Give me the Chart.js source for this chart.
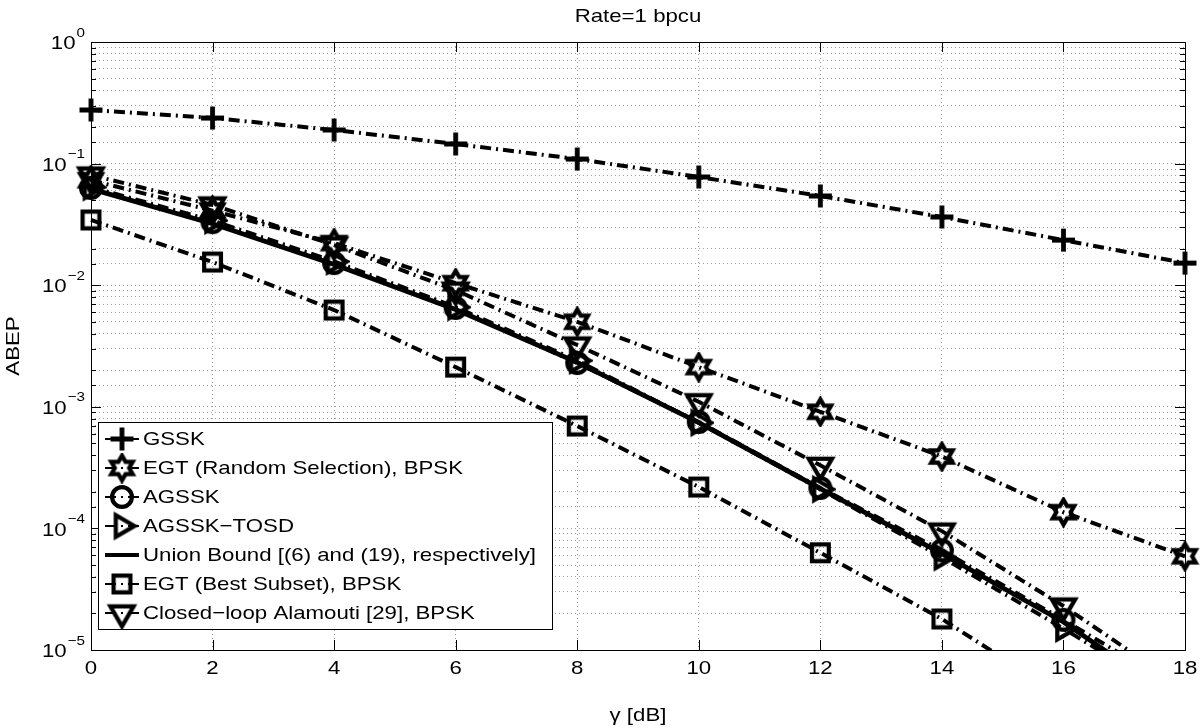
<!DOCTYPE html>
<html>
<head>
<meta charset="utf-8">
<title>Rate=1 bpcu</title>
<script src="https://cdn.jsdelivr.net/npm/chart.js@4.4.1/dist/chart.umd.min.js"></script>
<style>
  html, body { margin: 0; padding: 0; background: #fff; }
</style>
</head>
<body>
<canvas id="abepChart" width="1200" height="728"></canvas>
<script>
// values (ABEP vs gamma in dB)
const snrDb = [0, 2, 4, 6, 8, 10, 12, 14, 16, 18];
const gssk = [0.276, 0.237, 0.189, 0.145, 0.109, 0.0776, 0.0542, 0.0364, 0.0235, 0.0152];
const egtRandom = [0.073, 0.041, 0.0222, 0.0104, 0.0050, 0.00212, 9.1e-4, 3.9e-4, 1.36e-4, 5.9e-5];
const agssk = [0.063, 0.033, 0.0152, 0.0065, 0.00229, 7.5e-4, 2.15e-4, 6.6e-5, 1.77e-5, 4.5e-6];
const agsskTosd = [0.064, 0.034, 0.0157, 0.0066, 0.0024, 7.4e-4, 2.1e-4, 5.8e-5, 1.5e-5, 3.7e-6];
const unionBound = [0.062, 0.032, 0.0148, 0.0063, 0.00232, 7.4e-4, 2.12e-4, 6.2e-5, 1.7e-5, 3.5e-6];
const egtBest = [0.0344, 0.0155, 0.00625, 0.00212, 6.95e-4, 2.19e-4, 6.3e-5, 1.8e-5, 4.1e-6, 9.4e-7];
const closedLoop = [0.0805, 0.0457, 0.0214, 0.0091, 0.00322, 0.0011, 3.3e-4, 9.5e-5, 2.3e-5, 4.8e-6];

const seriesNames = [
  'GSSK',
  'EGT (Random Selection), BPSK',
  'AGSSK',
  'AGSSK\u2212TOSD',
  'Union Bound [(6) and (19), respectively]',
  'EGT (Best Subset), BPSK',
  'Closed\u2212loop Alamouti [29], BPSK'
];
const xTicks = [0, 2, 4, 6, 8, 10, 12, 14, 16, 18];
const yDecades = [0, -1, -2, -3, -4, -5];
const titleText = 'Rate=1 bpcu';
const xTitle = '\u03b3 [dB]';
const yTitle = 'ABEP';

const FONT = "'Liberation Sans', Arial, Helvetica, sans-serif";
const FS = 19;      // font size
const SX = 1.17;    // the original figure is a bit stretched sideways
const DASHDOT = [11, 5, 2, 5];

function txt(ctx, s, x, y, size, align, rot) {
  ctx.save();
  ctx.translate(x, y);
  if (rot) ctx.rotate(rot);
  ctx.scale(SX, 1);
  ctx.font = size + 'px ' + FONT;
  ctx.fillStyle = '#000';
  ctx.textAlign = align;
  ctx.textBaseline = 'middle';
  ctx.fillText(s, 0, 0);
  ctx.restore();
}

// marker images (MATLAB style hollow markers)
function marker(kind, size, lw) {
  const c = document.createElement('canvas');
  c.width = size; c.height = size;
  const g = c.getContext('2d');
  const m = size / 2;
  g.strokeStyle = '#000';
  g.lineWidth = lw;
  g.lineJoin = 'miter';
  g.beginPath();
  if (kind === 'plus') {
    g.moveTo(1, m); g.lineTo(size - 1, m);
    g.moveTo(m, 1); g.lineTo(m, size - 1);
  } else if (kind === 'hexagram') {
    const R = m - lw / 2 - 1, r = R / Math.sqrt(3);
    for (let k = 0; k < 12; k++) {
      const ang = -Math.PI / 2 + k * Math.PI / 6;
      const rad = k % 2 === 0 ? R : r;
      const px = m + rad * Math.cos(ang), py = m + rad * Math.sin(ang);
      if (k === 0) g.moveTo(px, py); else g.lineTo(px, py);
    }
    g.closePath();
  } else if (kind === 'circle') {
    g.arc(m, m, m - lw / 2 - 1, 0, Math.PI * 2);
  } else if (kind === 'triRight') {
    const R = m - lw / 2 - 1;
    g.moveTo(m + R, m);
    g.lineTo(m - R / 2, m - R * 0.87);
    g.lineTo(m - R / 2, m + R * 0.87);
    g.closePath();
  } else if (kind === 'triDown') {
    const R = m - lw / 2 - 1;
    g.moveTo(m, m + R);
    g.lineTo(m - R * 0.87, m - R / 2);
    g.lineTo(m + R * 0.87, m - R / 2);
    g.closePath();
  } else if (kind === 'square') {
    g.rect(lw / 2 + 1, lw / 2 + 1, size - lw - 2, size - lw - 2);
  }
  g.stroke();
  return c;
}

const markers = [
  marker('plus', 25, 4.8),
  marker('hexagram', 31, 4.2),
  marker('circle', 26, 4.2),
  marker('triRight', 31, 4.2),
  null,
  marker('square', 23, 4.2),
  marker('triDown', 33, 4.2)
];
const seriesValues = [gssk, egtRandom, agssk, agsskTosd, unionBound, egtBest, closedLoop];

const datasets = seriesValues.map((vals, i) => ({
  label: seriesNames[i],
  data: snrDb.map((x, j) => ({ x: x, y: vals[j] })),
  borderColor: '#000',
  backgroundColor: '#000',
  borderWidth: i === 4 ? 4.8 : 4,
  borderDash: i === 4 ? [] : DASHDOT,
  pointStyle: markers[i] || false,
  pointRadius: markers[i] ? 10 : 0,
  tension: 0,
  clip: { left: 20, right: 20, top: 20, bottom: 0 }
}));

// frame, inward tick marks, MATLAB style labels
const framePlugin = {
  id: 'frame',
  afterDraw(chart) {
    const { ctx, chartArea: a, scales } = chart;
    const xs = scales.x, ys = scales.y;
    ctx.save();
    ctx.strokeStyle = '#000';
    ctx.lineWidth = 1;
    ctx.setLineDash([]);
    ctx.beginPath();
    ys.ticks.forEach(t => {
      const py = Math.round(ys.getPixelForValue(t.value)) + 0.5;
      const lg = Math.log10(t.value);
      const len = Math.abs(lg - Math.round(lg)) < 1e-6 ? 10 : 5;
      ctx.moveTo(a.left, py); ctx.lineTo(a.left + len, py);
      ctx.moveTo(a.right, py); ctx.lineTo(a.right - len, py);
    });
    xTicks.forEach(v => {
      const px = Math.round(xs.getPixelForValue(v)) + 0.5;
      ctx.moveTo(px, a.top); ctx.lineTo(px, a.top + 10);
      ctx.moveTo(px, a.bottom); ctx.lineTo(px, a.bottom - 10);
    });
    ctx.stroke();
    ctx.strokeRect(Math.round(a.left) + 0.5, Math.round(a.top) + 0.5,
      Math.round(a.right - a.left), Math.round(a.bottom - a.top));
    ctx.restore();

    const cx = (a.left + a.right) / 2;
    txt(ctx, titleText, cx, 17, FS, 'center');
    txt(ctx, xTitle, cx, 716, FS, 'center');
    txt(ctx, yTitle, 14, (a.top + a.bottom) / 2, FS, 'center', -Math.PI / 2);

    xTicks.forEach(v => {
      txt(ctx, String(v), xs.getPixelForValue(v), a.bottom + 19, FS, 'center');
    });

    ctx.save();
    yDecades.forEach(e => {
      const py = ys.getPixelForValue(Math.pow(10, e));
      const expTxt = e === 0 ? '0' : '\u2212' + (-e);
      const xr = a.left - 6;
      ctx.font = '13px ' + FONT;
      const ew = ctx.measureText(expTxt).width * SX;
      txt(ctx, expTxt, xr, py - 9, 13, 'right');
      txt(ctx, '10', xr - ew - 1, py + 2, FS, 'right');
    });
    ctx.restore();
  }
};

// legend box in the lower left of the plot
const legendPlugin = {
  id: 'boxLegend',
  afterDraw(chart) {
    const { ctx, chartArea: a } = chart;
    const bx = a.left + 7, bw = 454, bh = 207;
    const by = a.bottom - 21 - bh;
    ctx.save();
    ctx.fillStyle = '#fff';
    ctx.fillRect(bx, by, bw, bh);
    ctx.strokeStyle = '#000';
    ctx.lineWidth = 1;
    ctx.strokeRect(bx + 0.5, by + 0.5, bw, bh);
    seriesNames.forEach((name, i) => {
      const cy = by + 17 + i * 29;
      ctx.beginPath();
      ctx.lineWidth = i === 4 ? 4 : 2;
      ctx.setLineDash(i === 4 ? [] : DASHDOT);
      ctx.moveTo(bx + 7, cy);
      ctx.lineTo(bx + 41, cy);
      ctx.stroke();
      ctx.setLineDash([]);
      const mk = markers[i];
      if (mk) ctx.drawImage(mk, bx + 24 - mk.width / 2, cy - mk.height / 2);
      txt(ctx, name, bx + 45, cy + 1, FS, 'left');
    });
    ctx.restore();
  }
};

new Chart(document.getElementById('abepChart').getContext('2d'), {
  type: 'line',
  data: { datasets: datasets },
  options: {
    responsive: false,
    animation: false,
    layout: { padding: { left: 0, right: 15, top: 42, bottom: 0 } },
    plugins: {
      legend: { display: false },
      tooltip: { enabled: false },
      title: { display: false }
    },
    scales: {
      x: {
        type: 'linear',
        min: 0,
        max: 18,
        afterFit: s => { s.height = 78; },
        afterBuildTicks: s => { s.ticks = xTicks.map(v => ({ value: v })); },
        ticks: { display: false },
        grid: { color: 'rgba(0,0,0,0.38)', drawTicks: false },
        border: { display: false, dash: [1, 3] }
      },
      y: {
        type: 'logarithmic',
        min: 1e-5,
        max: 1,
        afterFit: s => { s.width = 91; },
        ticks: { display: false, autoSkip: false },
        grid: { color: 'rgba(0,0,0,0.38)', drawTicks: false },
        border: { display: false, dash: [1, 3] }
      }
    }
  },
  plugins: [framePlugin, legendPlugin]
});
</script>
</body>
</html>
